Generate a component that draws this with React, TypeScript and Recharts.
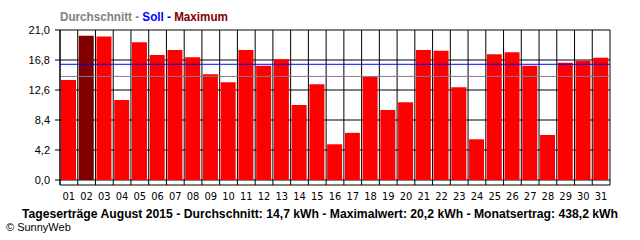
import { BarChart, Bar, Cell, XAxis, YAxis, CartesianGrid, ReferenceLine } from 'recharts';

// Tageserträge August 2015 (kWh)
const days = ['01', '02', '03', '04', '05', '06', '07', '08', '09', '10', '11', '12', '13', '14', '15', '16',
    '17', '18', '19', '20', '21', '22', '23', '24', '25', '26', '27', '28', '29', '30', '31'];
const ertrag = [14.0, 20.2, 20.1, 11.2, 19.3, 17.5, 18.2, 17.2, 14.8, 13.7, 18.2, 16.0, 16.9, 10.5, 13.4, 5.0,
    6.6, 14.5, 9.8, 10.9, 18.2, 18.1, 13.0, 5.7, 17.6, 17.9, 16.0, 6.3, 16.4, 16.7, 17.1];
const soll = 16.2;
const durchschnitt = 14.5;
const yTicks = [0, 4.2, 8.4, 12.6, 16.8, 21];

const data = days.map((day, i) => ({ day, kwh: ertrag[i] }));
const maxValue = Math.max(...ertrag);

const fmt = (v: number) => v.toFixed(1).replace('.', ',');

// vertical grid lines sit on the day boundaries, not the day centres
const dayEdges = ({ xAxis, offset }: any) => {
    const s = xAxis?.scale;
    const at = (d: string): number | undefined => {
        if (typeof s === 'function') return s(d);
        if (s && typeof s.map === 'function') return s.map(d);
        return undefined;
    };
    const a = at(days[0]);
    const b = at(days[1]);
    if (typeof a === 'number' && typeof b === 'number' && !isNaN(a) && !isNaN(b)) {
        const step = b - a;
        const shift = a - offset.left > step / 4 ? step / 2 : 0;
        const edges = days.map((d) => (at(d) as number) - shift);
        edges.push(edges[edges.length - 1] + step);
        return edges;
    }
    const step = offset.width / days.length;
    return [...days.map((_, i) => offset.left + i * step), offset.left + offset.width];
};

export default function App() {
    return (
        <div style={{ position: 'absolute', left: 0, top: 0, width: 640, height: 240, background: '#fff' }}>
            <BarChart
                width={640}
                height={240}
                data={data}
                margin={{ top: 30, right: 30, left: 0, bottom: 35 }}
            >
                <CartesianGrid
                    xAxisId="cat"
                    stroke="#000"
                    strokeWidth={1}
                    verticalCoordinatesGenerator={dayEdges}
                />
                <XAxis
                    xAxisId="cat"
                    dataKey="day"
                    height={20}
                    axisLine={false}
                    tickLine={false}
                    tickSize={0}
                    tickMargin={7}
                    interval={0}
                    tick={{ fill: '#000', fontSize: 11, fontFamily: 'Liberation Sans Narrow, DejaVu Sans Condensed, sans-serif' }}
                />
                <YAxis
                    width={60}
                    domain={[-0.7, 21]}
                    allowDataOverflow
                    ticks={yTicks}
                    interval={0}
                    tickFormatter={fmt}
                    axisLine={{ stroke: '#000' }}
                    tickLine={{ stroke: '#000' }}
                    tickSize={5}
                    tickMargin={5}
                    tick={{ fill: '#000', fontSize: 11, fontFamily: 'Liberation Sans, Arial, sans-serif' }}
                />
                <Bar xAxisId="cat" dataKey="kwh" barSize={15} isAnimationActive={false}>
                    {data.map((d) => (
                        <Cell key={d.day} fill={d.kwh === maxValue ? '#800000' : '#ff0000'} />
                    ))}
                </Bar>
                <ReferenceLine xAxisId="cat" y={durchschnitt} stroke="#808080" strokeWidth={1} />
                <ReferenceLine xAxisId="cat" y={soll} stroke="#0000ff" strokeWidth={1} />
            </BarChart>
            <svg width={640} height={240} style={{ position: 'absolute', left: 0, top: 0, pointerEvents: 'none' }}>
                <text x={60} y={21} textLength={168} lengthAdjust="spacingAndGlyphs"
                    fontFamily="Liberation Sans, Arial, sans-serif" fontSize={12} fontWeight="bold">
                    <tspan fill="#808080">Durchschnitt - </tspan>
                    <tspan fill="#0000ff">Soll - </tspan>
                    <tspan fill="#800000">Maximum</tspan>
                </text>
                <text x={22} y={218} textLength={596} lengthAdjust="spacingAndGlyphs"
                    fontFamily="Liberation Sans, Arial, sans-serif" fontSize={12} fontWeight="bold" fill="#000">
                    Tageserträge August 2015 - Durchschnitt: 14,7 kWh - Maximalwert: 20,2 kWh - Monatsertrag: 438,2 kWh
                </text>
                <text x={6} y={231} fontFamily="Liberation Sans, Arial, sans-serif" fontSize={11} fill="#000">
                    © SunnyWeb
                </text>
            </svg>
        </div>
    );
}
